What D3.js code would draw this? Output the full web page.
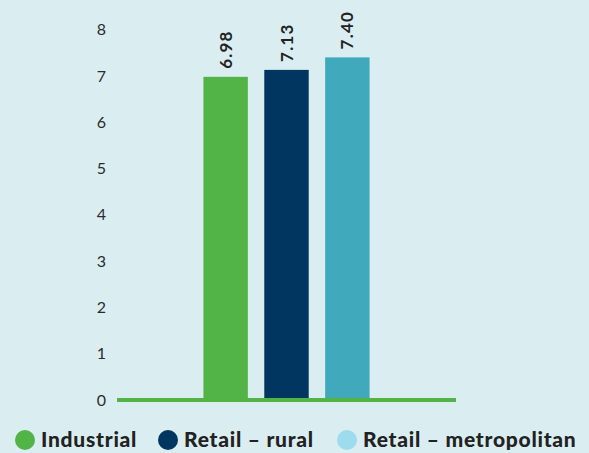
<!DOCTYPE html>
<html>
<head>
<meta charset="utf-8">
<script src="https://cdn.jsdelivr.net/npm/d3@7"></script>
<style>
  body { margin: 0; background: #daeef2; }
  svg { display: block; }
</style>
</head>
<body>
<svg id="vis" width="589" height="453"></svg>
<script>
// chart data
const categories = ["Industrial", "Retail – rural", "Retail – metropolitan"];
const values = [6.98, 7.13, 7.40];
const yTicks = [0, 1, 2, 3, 4, 5, 6, 7, 8];
const barColors = ["#52b347", "#00365f", "#40a9bc"];
const legendColors = ["#52b347", "#00365f", "#9cdcec"];

const svg = d3.select('#vis');

var x = d3.scaleBand()
    .domain(categories)
    .range([117, 456])
    .paddingInner(0.27)
    .paddingOuter(1.42);

var y = d3.scaleLinear()
    .domain([0, 8])
    .range([400, 29.6]);

// y tick labels (no axis line)
svg.append('g')
    .selectAll('text')
    .data(yTicks)
    .enter().append('text')
    .attr('x', 106)
    .attr('y', function (d) { return y(d); })
    .attr('dy', '.35em')
    .attr('text-anchor', 'end')
    .attr('font-family', 'Lato, sans-serif')
    .attr('font-size', '16px')
    .attr('fill', '#2b2b2b')
    .text(function (d) { return d; });

// bars
svg.append('g')
    .selectAll('rect')
    .data(values)
    .enter().append('rect')
    .attr('x', function (d, i) { return x(categories[i]); })
    .attr('y', function (d) { return y(d); })
    .attr('width', x.bandwidth())
    .attr('height', function (d) { return y(0) - y(d); })
    .attr('fill', function (d, i) { return barColors[i]; });

// baseline
svg.append('line')
    .attr('x1', 117)
    .attr('x2', 456)
    .attr('y1', y(0))
    .attr('y2', y(0))
    .attr('stroke', '#52b347')
    .attr('stroke-width', 4);

// value labels, rotated
svg.append('g')
    .selectAll('text')
    .data(values)
    .enter().append('text')
    .attr('transform', function (d, i) {
        var cx = x(categories[i]) + x.bandwidth() / 2;
        return 'translate(' + (cx + 6) + ',' + (y(d) - 8) + ') rotate(-90)';
    })
    .attr('font-family', 'Lato, sans-serif')
    .attr('font-weight', 'bold')
    .attr('font-size', '17px')
    .attr('letter-spacing', '1.2px')
    .attr('fill', '#222')
    .text(function (d) { return d.toFixed(2); });

// legend
var legendX = [25, 168, 347];
var legend = svg.append('g')
    .selectAll('g')
    .data(categories)
    .enter().append('g')
    .attr('transform', function (d, i) { return 'translate(' + legendX[i] + ',440)'; });

legend.append('circle')
    .attr('r', 10)
    .attr('fill', function (d, i) { return legendColors[i]; });

legend.append('text')
    .attr('x', 16)
    .attr('dy', '.35em')
    .attr('font-family', 'Lato, sans-serif')
    .attr('font-weight', 900)
    .attr('font-size', '21px')
    .attr('letter-spacing', '0.75px')
    .attr('fill', '#222')
    .text(function (d) { return d; });
</script>
</body>
</html>
